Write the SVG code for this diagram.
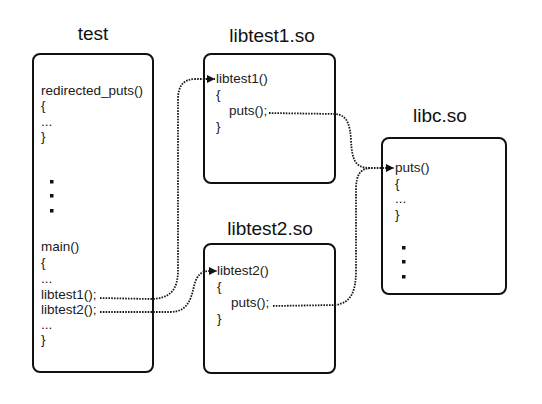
<svg xmlns="http://www.w3.org/2000/svg" width="542" height="404" viewBox="0 0 542 404">
<defs>
<style>
.box{fill:#fff;stroke:#111;stroke-width:2}
.title{font-family:"Liberation Sans",Arial,sans-serif;font-size:19px;fill:#111;text-anchor:middle}
.code{font-family:"Liberation Sans",Arial,sans-serif;font-size:13.5px;fill:#1a1a1a}
.dot{fill:#111}
.conn{fill:none;stroke:#1a1a1a;stroke-width:1.8;stroke-dasharray:1.6 1.2}
</style>
<marker id="arr" markerWidth="9" markerHeight="9" refX="8" refY="4.5" orient="auto" markerUnits="userSpaceOnUse">
<path d="M0,0.5 L8,4.5 L0,8.5 Z" fill="#111"/>
</marker>
</defs>
<rect width="542" height="404" fill="#fff"/>

<g id="test">
<text class="title" x="93" y="40">test</text>
<rect class="box" x="33" y="54" width="120" height="318" rx="7"/>
<text class="code" x="41" y="95">redirected_puts()</text>
<text class="code" x="41" y="110">{</text>
<text class="code" x="41" y="126">...</text>
<text class="code" x="41" y="141">}</text>
<rect class="dot" x="50" y="180" width="3.5" height="3.5"/>
<rect class="dot" x="50" y="194" width="3.5" height="3.5"/>
<rect class="dot" x="50" y="209" width="3.5" height="3.5"/>
<text class="code" x="41" y="251">main()</text>
<text class="code" x="41" y="267">{</text>
<text class="code" x="41" y="283">...</text>
<text class="code" x="41" y="299">libtest1();</text>
<text class="code" x="41" y="314">libtest2();</text>
<text class="code" x="41" y="329">...</text>
<text class="code" x="41" y="344">}</text>
</g>

<g id="libtest1">
<text class="title" x="272" y="42">libtest1.so</text>
<rect class="box" x="204" y="54" width="131" height="129" rx="7"/>
<text class="code" x="216" y="83">libtest1()</text>
<text class="code" x="216" y="99">{</text>
<text class="code" x="229" y="115">puts();</text>
<text class="code" x="216" y="131">}</text>
</g>

<g id="libtest2">
<text class="title" x="270" y="235">libtest2.so</text>
<rect class="box" x="204" y="244" width="131" height="129" rx="7"/>
<text class="code" x="217" y="275">libtest2()</text>
<text class="code" x="217" y="291">{</text>
<text class="code" x="231" y="307">puts();</text>
<text class="code" x="217" y="323">}</text>
</g>

<g id="libc">
<text class="title" x="440" y="122">libc.so</text>
<rect class="box" x="382" y="138" width="124" height="156" rx="7"/>
<text class="code" x="395" y="172">puts()</text>
<text class="code" x="395" y="188">{</text>
<text class="code" x="395" y="203">...</text>
<text class="code" x="395" y="219">}</text>
<rect class="dot" x="402" y="246" width="3.5" height="3.5"/>
<rect class="dot" x="402" y="260" width="3.5" height="3.5"/>
<rect class="dot" x="402" y="275" width="3.5" height="3.5"/>
</g>

<g id="connectors">
<path class="conn" d="M100,298 L150,299 C170,299 178,290 178,270 L178,100 C178,86 183,79 196,79 L215,79" marker-end="url(#arr)"/>
<path class="conn" d="M100,312 L170,312 C187,312 191,300 194,286 C197,274 202,271 210,271 L217,271" marker-end="url(#arr)"/>
<path class="conn" d="M269,113 L335,114 C348,115 350,126 351,140 C352,160 355,168 370,168 L394,168" marker-end="url(#arr)"/>
<path class="conn" d="M273,306 L335,305 C352,303 356,290 356,270 L356,190 C356,175 360,168 372,168"/>
</g>
</svg>
